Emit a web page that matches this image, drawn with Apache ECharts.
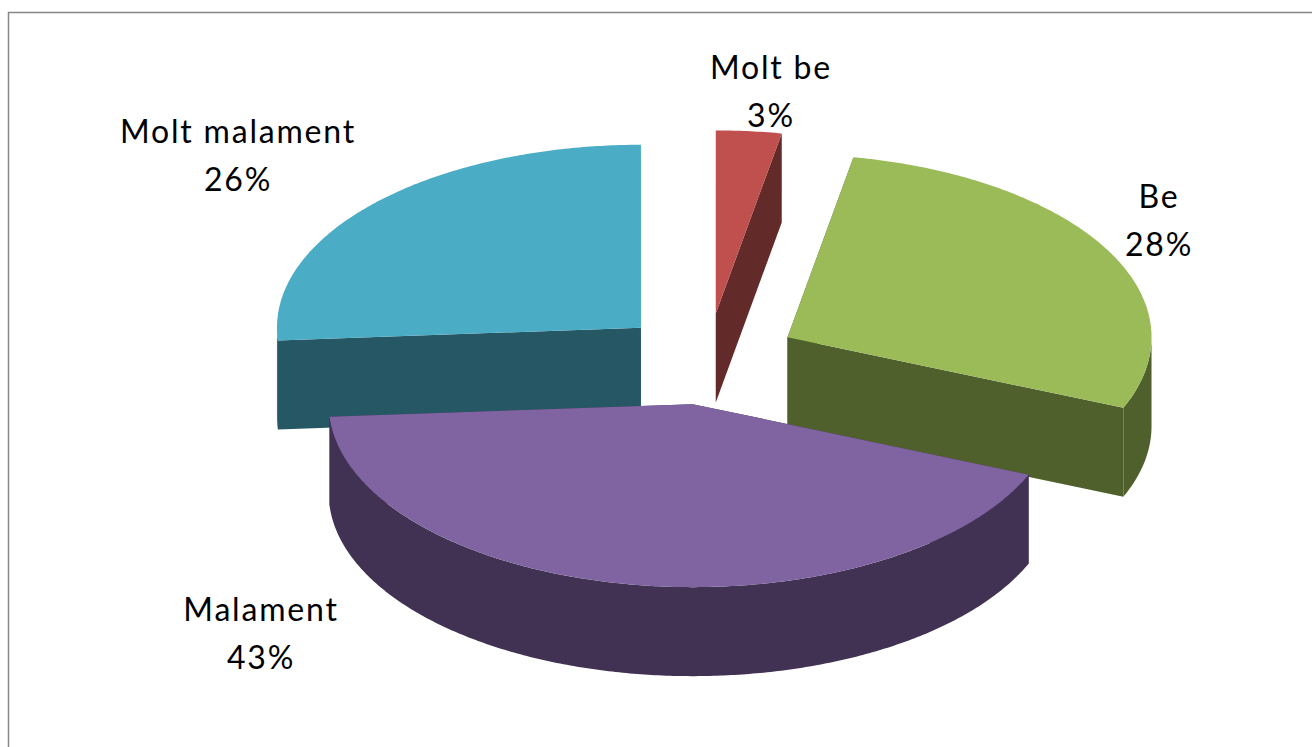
<!DOCTYPE html>
<html>
<head>
<meta charset="utf-8">
<style>
  html, body { margin: 0; padding: 0; background: #fff; }
  #chart { width: 1312px; height: 747px; }
  /* echarts has no letter spacing option, the svg text takes it from css */
  #chart text { letter-spacing: 1.8px; }
</style>
<script src="https://cdn.jsdelivr.net/npm/echarts@6/dist/echarts.min.js"></script>
</head>
<body>
<div id="chart"></div>
<script>
// data, the labels show them rounded
const categories = ['Molt be', 'Be', 'Malament', 'Molt malament']
const shares = [2.9, 28.4, 42.6, 26.1]

// colours per slice
const topColors = ['#C0504D', '#9BBB59', '#8064A2', '#4BACC6']
const sideColors = ['#622A28', '#4F602D', '#413253', '#255764']

// painter's order: back slices first, the front one last
const drawOrder = [3, 0, 1, 2]

// projection of the tilted pie
const pie = { cx: 707.5, cy: 359, rx: 364, ry: 183, depth: 89, explode: 0.25 }
const labelFont = { size: 32, lineHeight: 48, family: 'Lato' }
// label centres were placed by hand in the original
const labelCenters = [[771, 90], [1159, 219], [261, 632], [238, 154]]

const total = shares.reduce((a, b) => a + b, 0)

function toAngle(v) {
  return echarts.number.linearMap(v, [0, total], [0, Math.PI * 2])
}

// angle is clockwise from 12 o'clock
function rimPoint(c, a, down) {
  return [
    c[0] + pie.rx * Math.sin(a),
    c[1] - pie.ry * Math.cos(a) + (down || 0)
  ]
}

function arcPoints(c, from, to, down) {
  const pts = []
  const steps = Math.max(2, Math.ceil((to - from) / 0.01))
  for (let i = 0; i <= steps; i++) {
    pts.push(rimPoint(c, from + ((to - from) * i) / steps, down))
  }
  return pts
}

function renderSlice(params, api) {
  const idx = api.value(0)
  const before = shares.slice(0, idx).reduce((a, b) => a + b, 0)
  const start = toAngle(before)
  const end = toAngle(before + shares[idx])
  const mid = (start + end) / 2
  const c = [
    pie.cx + pie.explode * pie.rx * Math.sin(mid),
    pie.cy - pie.explode * pie.ry * Math.cos(mid)
  ]
  const d = pie.depth
  const side = { fill: sideColors[idx] }
  const children = []

  // the two cut faces
  ;[start, end].forEach(a => {
    const p = rimPoint(c, a)
    children.push({
      type: 'polygon',
      shape: { points: [c, p, [p[0], p[1] + d], [c[0], c[1] + d]] },
      style: side
    })
  })

  // outer wall, only the front half of the ellipse shows
  const wallFrom = Math.max(start, Math.PI / 2)
  const wallTo = Math.min(end, Math.PI * 1.5)
  if (wallTo > wallFrom) {
    const upper = arcPoints(c, wallFrom, wallTo)
    const lower = arcPoints(c, wallFrom, wallTo, d).reverse()
    children.push({
      type: 'polygon',
      shape: { points: upper.concat(lower) },
      style: side
    })
  }

  // top face
  children.push({
    type: 'polygon',
    shape: { points: [c].concat(arcPoints(c, start, end)) },
    style: { fill: topColors[idx] }
  })

  children.push({
    type: 'text',
    z2: 10,
    style: {
      x: labelCenters[idx][0],
      y: labelCenters[idx][1],
      text: categories[idx] + '\n' + Math.round(shares[idx]) + '%',
      align: 'center',
      verticalAlign: 'middle',
      fill: '#000',
      fontFamily: labelFont.family,
      fontSize: labelFont.size,
      lineHeight: labelFont.lineHeight
    }
  })

  return { type: 'group', children: children }
}

const option = {
  backgroundColor: '#fff',
  animation: false,
  graphic: [
    {
      type: 'rect',
      silent: true,
      shape: { x: 8.5, y: 12.5, width: 1400, height: 800 },
      style: { fill: 'none', stroke: '#868686', lineWidth: 1.5 }
    }
  ],
  series: [
    {
      type: 'custom',
      coordinateSystem: 'none',
      renderItem: renderSlice,
      data: drawOrder.map(i => [i])
    }
  ]
}

const myChart = echarts.init(document.getElementById('chart'), null, { renderer: 'svg' })
myChart.setOption(option)
</script>
</body>
</html>
